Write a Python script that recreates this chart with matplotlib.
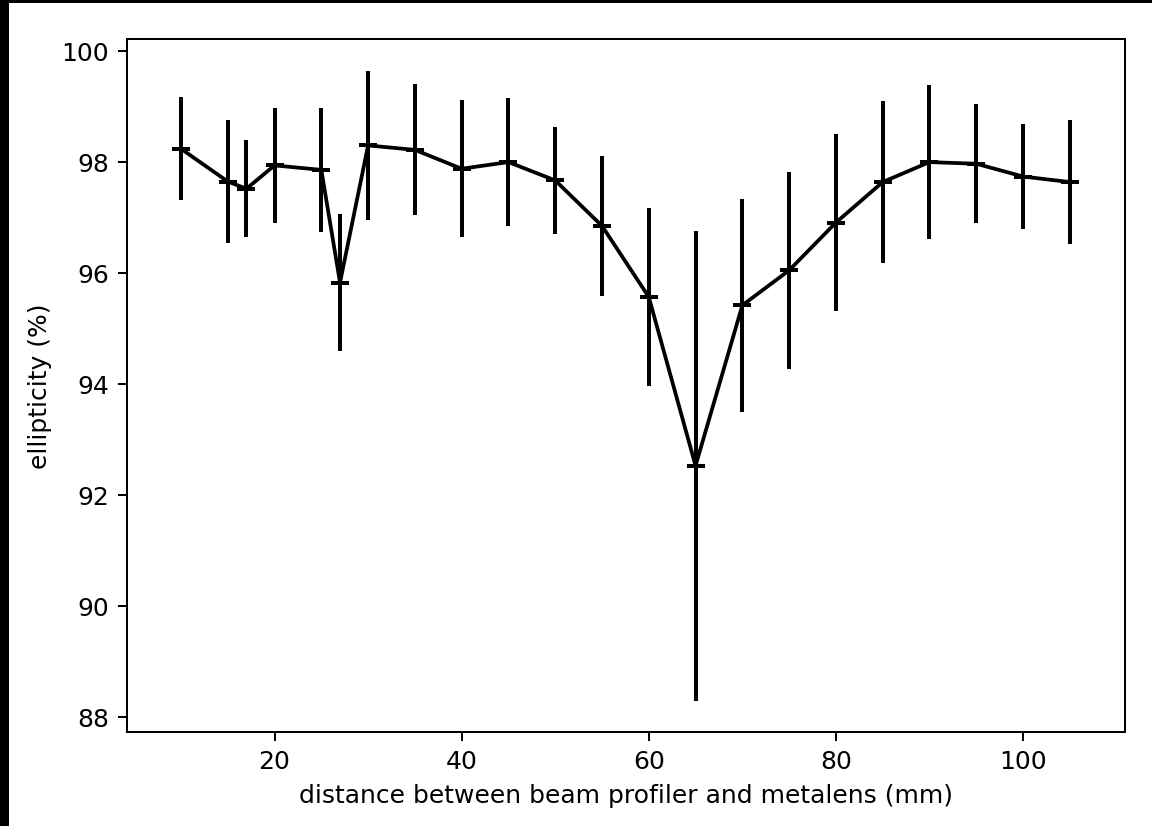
import matplotlib
matplotlib.use("Agg")
import matplotlib.pyplot as plt
from matplotlib.patches import Rectangle

# Distance between beam profiler and metalens (mm)
distance = [10, 15, 17, 20, 25, 27, 30, 35, 40, 45, 50, 55, 60, 65, 70, 75,
            80, 85, 90, 95, 100, 105]
# Measured ellipticity (%)
ellipticity = [98.23, 97.64, 97.51, 97.93, 97.85, 95.82, 98.29, 98.21, 97.87,
               97.99, 97.66, 96.84, 95.56, 92.52, 95.41, 96.04, 96.90, 97.63,
               97.99, 97.96, 97.73, 97.63]
# Standard deviation of ellipticity (%)
ellipticity_err = [0.93, 1.11, 0.87, 1.03, 1.12, 1.24, 1.35, 1.18, 1.23, 1.16,
                   0.97, 1.26, 1.60, 4.23, 1.92, 1.78, 1.60, 1.46, 1.39, 1.07,
                   0.95, 1.12]

W, H, DPI = 1152, 827, 180
fig = plt.figure(figsize=(W / DPI, H / DPI), dpi=DPI)
fig.patch.set_facecolor("white")

left, right, top, bottom = 126.7, 1125, 40, 733
ax = fig.add_axes([left / W, 1 - bottom / H, (right - left) / W, (bottom - top) / H])

ax.errorbar(distance, ellipticity, yerr=ellipticity_err, fmt="-+", color="black",
            ecolor="black", elinewidth=1.6, linewidth=1.5, markersize=7,
            markeredgewidth=1.6)

ax.set_xlim(4.2, 110.9)
ax.set_xlabel("distance between beam profiler and metalens (mm)", fontsize=10)
ax.set_ylabel("ellipticity (%)", fontsize=10)
ax.tick_params(labelsize=10)

# dark frame strips along the left and top edges
fig.patches.append(Rectangle((0, 0), 8.5 / W, 1, transform=fig.transFigure,
                             facecolor="black", edgecolor="none", zorder=10))
fig.patches.append(Rectangle((0, 1 - 4 / H), 1, 4 / H, transform=fig.transFigure,
                             facecolor="black", edgecolor="none", zorder=10))

fig.savefig("out.png", dpi=DPI)
